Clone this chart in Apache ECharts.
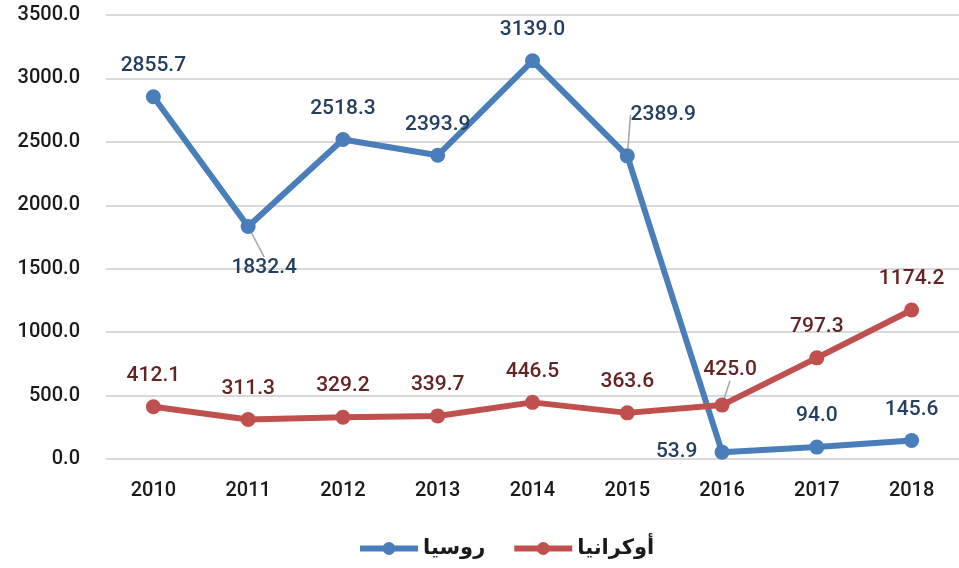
<!DOCTYPE html>
<html>
<head>
<meta charset="utf-8">
<script src="https://cdn.jsdelivr.net/npm/echarts@6/dist/echarts.min.js"></script>
<style>
  html, body { margin: 0; padding: 0; background: #fff; }
  #chart { width: 959px; height: 568px; }
</style>
</head>
<body>
<div id="chart"></div>
<script>
// years
var years = ['2010', '2011', '2012', '2013', '2014', '2015', '2016', '2017', '2018'];
// روسيا
var russia = [2855.7, 1832.4, 2518.3, 2393.9, 3139.0, 2389.9, 53.9, 94.0, 145.6];
// أوكرانيا
var ukraine = [412.1, 311.3, 329.2, 339.7, 446.5, 363.6, 425.0, 797.3, 1174.2];
var names = ['روسيا', 'أوكرانيا'];

var FONT = 'Roboto';

// labels that are moved off the default "top" spot (with guide line)
var russiaLabelFix = {
    1: { position: 'bottom', dx: 16, dy: 10 },
    5: { position: 'top', dx: 36, dy: -10 },
    6: { position: 'left', dx: -4, dy: 0, noLine: true }
};
var ukraineLabelFix = {
    6: { position: 'top', dx: 8, dy: -4 }
};

function buildData(values, fix) {
    return values.map(function (v, i) {
        var item = { value: v };
        if (fix[i]) {
            item.label = { position: fix[i].position };
            item.labelLine = { show: !fix[i].noLine };
        }
        return item;
    });
}

function layoutFor(fix) {
    return function (params) {
        var f = fix[params.dataIndex];
        if (!f) return {};
        return { dx: f.dx, dy: f.dy };
    };
}

var chart = echarts.init(document.getElementById('chart'));
var option = {
    animation: false,
    textStyle: { fontFamily: FONT },
    grid: {
        left: 106,
        right: -7,
        top: 15,
        bottom: 109
    },
    legend: {
        bottom: 4,
        left: 352,
        itemWidth: 58,
        itemHeight: 16,
        itemGap: 26,
        data: names,
        lineStyle: { width: 6 },
        textStyle: {
            fontFamily: 'DejaVu Sans',
            fontSize: 21,
            fontWeight: 'bold',
            color: '#1a1a1a'
        }
    },
    xAxis: {
        type: 'category',
        data: years,
        axisLine: { show: false },
        axisTick: { show: false },
        axisLabel: {
            margin: 22,
            color: '#1a1a1a',
            fontSize: 20,
            fontWeight: 500
        }
    },
    yAxis: {
        type: 'value',
        min: 0,
        max: 3500,
        interval: 500,
        axisLine: { show: false },
        axisTick: { show: false },
        axisLabel: {
            margin: 26,
            color: '#1a1a1a',
            fontSize: 20,
            fontWeight: 500,
            formatter: function (v) { return v.toFixed(1); }
        },
        splitLine: {
            lineStyle: { color: '#d9d9d9', width: 2 }
        }
    },
    series: [
        {
            name: names[0],
            type: 'line',
            data: buildData(russia, russiaLabelFix),
            symbol: 'circle',
            symbolSize: 15,
            lineStyle: { color: '#4a7ebb', width: 6 },
            itemStyle: { color: '#4a7ebb' },
            label: {
                show: true,
                position: 'top',
                distance: 13,
                color: '#243f60',
                fontSize: 21,
                fontWeight: 500,
                formatter: function (p) { return p.value.toFixed(1); }
            },
            labelLine: {
                show: false,
                lineStyle: { color: '#a6a6a6', width: 1.5 }
            },
            labelLayout: layoutFor(russiaLabelFix)
        },
        {
            name: names[1],
            type: 'line',
            data: buildData(ukraine, ukraineLabelFix),
            symbol: 'circle',
            symbolSize: 15,
            lineStyle: { color: '#c0504d', width: 6 },
            itemStyle: { color: '#c0504d' },
            label: {
                show: true,
                position: 'top',
                distance: 13,
                color: '#632523',
                fontSize: 21,
                fontWeight: 500,
                formatter: function (p) { return p.value.toFixed(1); }
            },
            labelLine: {
                show: false,
                lineStyle: { color: '#a6a6a6', width: 1.5 }
            },
            labelLayout: layoutFor(ukraineLabelFix)
        }
    ]
};
chart.setOption(option);
window.addEventListener('resize', function () { chart.resize(); });
</script>
</body>
</html>
